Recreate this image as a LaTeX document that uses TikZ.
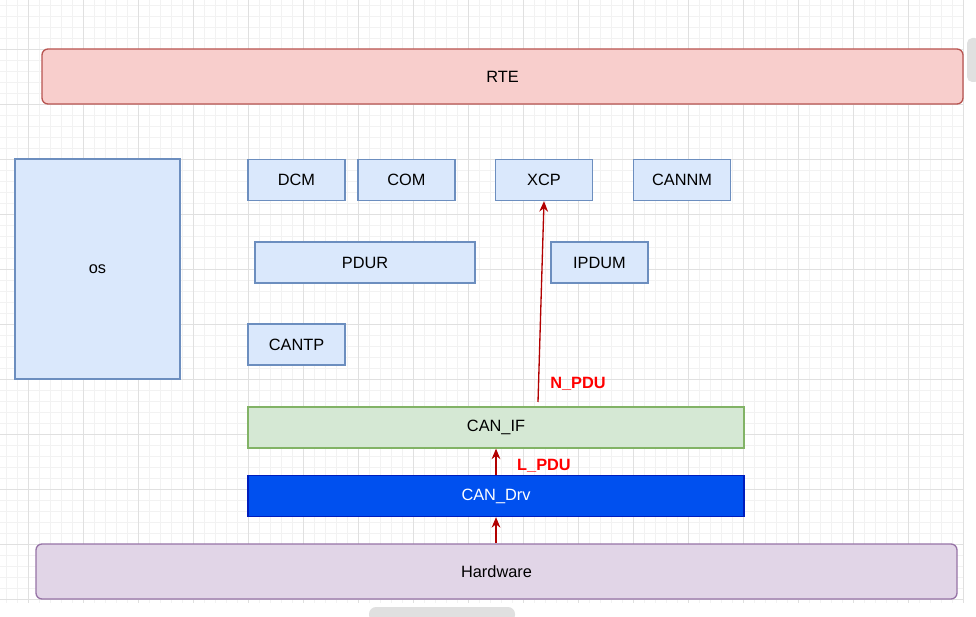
\documentclass[tikz,border=0pt]{standalone}
\usepackage{fontspec}
\setmainfont{Liberation Sans}
\usetikzlibrary{arrows.meta,calc}
\definecolor{rtefill}{HTML}{F8CECC}
\definecolor{rtedraw}{HTML}{B85450}
\definecolor{bluefill}{HTML}{DAE8FC}
\definecolor{bluedraw}{HTML}{6C8EBF}
\definecolor{ifill}{HTML}{D5E8D4}
\definecolor{idraw}{HTML}{82B366}
\definecolor{drvfill}{HTML}{0050EF}
\definecolor{drvdraw}{HTML}{001DBC}
\definecolor{hwfill}{HTML}{E1D5E7}
\definecolor{hwdraw}{HTML}{9673A6}
\definecolor{arrowred}{HTML}{B20000}
\definecolor{gridminor}{HTML}{F2F2F2}
\definecolor{gridmajor}{HTML}{E0E0E0}
\definecolor{scrollgray}{HTML}{E0E0E0}

\begin{document}
\begin{tikzpicture}[x=0.02cm,y=-0.02cm,
  txt/.style={font=\fontsize{9.3}{11}\selectfont},
  modbox/.style={txt,draw=bluedraw,fill=bluefill,line width=0.75pt},
  layerbox/.style={txt,rounded corners=3.4pt,line width=0.75pt},
  pdulink/.style={-{Stealth[length=6pt,width=5pt]},draw=arrowred,line width=0.75pt},
  pdulabel/.style={font=\fontsize{9.3}{11}\selectfont\bfseries,text=red}]
  % Ventana
  \useasboundingbox (0,0) rectangle (976,617);
  \fill[white] (0,0) rectangle (976,617);

  % Rejilla de fondo
  \foreach \x in {6,17,...,964}{
    \draw[gridminor,line width=0.4pt] (\x,0) -- (\x,603);
  }
  \foreach \y in {5.5,16.5,...,603}{
    \draw[gridminor,line width=0.4pt] (0,\y) -- (964,\y);
  }
  \foreach \x in {28,83,...,964}{
    \draw[gridmajor,line width=0.5pt] (\x,0) -- (\x,603);
  }
  \foreach \y in {49.5,104.5,...,603}{
    \draw[gridmajor,line width=0.5pt] (0,\y) -- (964,\y);
  }

  % Barras de desplazamiento
  \fill[scrollgray,rounded corners=3pt] (967,38) rectangle (980,82);
  \fill[scrollgray,rounded corners=4pt] (369,607) rectangle (515,622);

  % Capas
  \node[layerbox,draw=rtedraw,fill=rtefill,minimum width=921*0.02cm,minimum height=55*0.02cm] (rte) at (502.5,76.5) {RTE};
  \node[layerbox,draw=hwdraw,fill=hwfill,minimum width=921*0.02cm,minimum height=55*0.02cm] (hw) at (496.5,571.5) {Hardware};

  % Modulos
  \node[modbox,minimum width=165*0.02cm,minimum height=220*0.02cm] (os) at (97.5,269) {os};
  \node[modbox,minimum width=97*0.02cm,minimum height=41*0.02cm] (dcm) at (296.5,180) {DCM};
  \node[modbox,minimum width=97*0.02cm,minimum height=41*0.02cm] (com) at (406.5,180) {COM};
  \node[modbox,minimum width=97*0.02cm,minimum height=41*0.02cm] (xcp) at (544,180) {XCP};
  \node[modbox,minimum width=97*0.02cm,minimum height=41*0.02cm] (cannm) at (682,180) {CANNM};
  \node[modbox,minimum width=220*0.02cm,minimum height=41*0.02cm] (pdur) at (365,262.5) {PDUR};
  \node[modbox,minimum width=97*0.02cm,minimum height=41*0.02cm] (ipdum) at (599.5,262.5) {IPDUM};
  \node[modbox,minimum width=97*0.02cm,minimum height=41*0.02cm] (cantp) at (296.5,344.5) {CANTP};

  % Interfaz y driver
  \node[txt,draw=idraw,fill=ifill,line width=0.75pt,minimum width=496*0.02cm,minimum height=41*0.02cm] (canif) at (496,427.5) {CAN\_IF};
  \node[txt,draw=drvdraw,fill=drvfill,text=white,line width=0.75pt,minimum width=496*0.02cm,minimum height=41*0.02cm] (candrv) at (496,496) {CAN\_Drv};

  % Flujo de PDUs
  \coordinate (nstart) at (538,402);
  \draw[pdulink] (nstart) -- (xcp.south);
  \node[pdulabel] (npdu) at (578,384) {N\_PDU};
  \draw[pdulink] (candrv.north) -- (canif.south);
  \node[pdulabel] (lpdu) at (544,466) {L\_PDU};
  \draw[pdulink] (hw.north -| candrv.south) -- (candrv.south);
\end{tikzpicture}
\end{document}
